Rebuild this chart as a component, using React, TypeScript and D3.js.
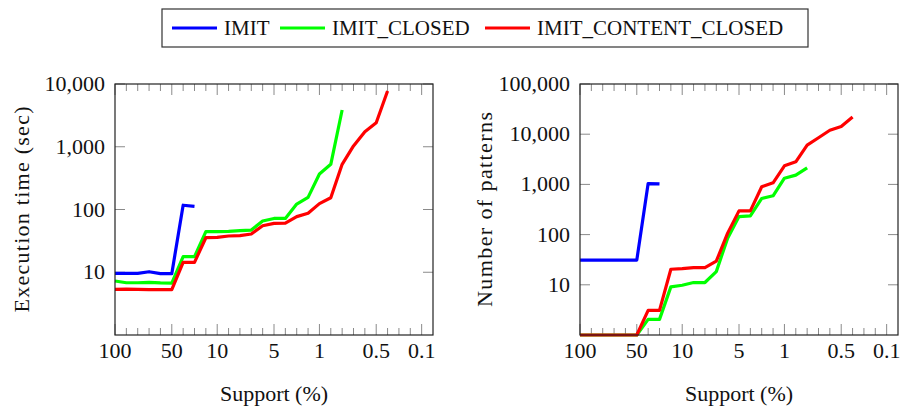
import React, { useRef, useEffect } from 'react'
import * as d3 from 'd3'

// support thresholds (%) - one per x position, evenly spaced
const supports = ['100', '90', '80', '70', '60', '50', '40', '30', '20', '10', '9', '8', '7', '6', '5', '4', '3', '2', '1', '0.9', '0.8', '0.7', '0.6', '0.5', '0.4', '0.3', '0.2', '0.1']
const supportTicks = ['100', '50', '10', '5', '1', '0.5', '0.1']

const seriesNames = ['IMIT', 'IMIT_CLOSED', 'IMIT_CONTENT_CLOSED']
const seriesColors = ['#0000ff', '#00ff00', '#ff0000']

// execution time (sec)
const timeImit = [9.6, 9.6, 9.6, 10.2, 9.5, 9.5, 117, 112]
const timeImitClosed = [7.25, 6.8, 6.8, 6.9, 6.75, 6.7, 17.7, 17.7, 44.3, 44.3, 44.8, 45.9, 47, 65.6, 72, 72, 122, 156, 368, 525, 3850]
const timeContentClosed = [5.35, 5.4, 5.35, 5.3, 5.3, 5.3, 14.4, 14.4, 35.5, 36, 37.8, 38.3, 40.7, 55, 60, 60.5, 77, 87, 124, 154, 525, 1030, 1740, 2420, 7730]

// number of patterns
const patImit = [31, 31, 31, 31, 31, 31, 1040, 1020]
const patImitClosed = [1, 1, 1, 1, 1, 1, 2.05, 2.05, 9.1, 9.8, 11.1, 11.1, 18.3, 85, 229, 237, 525, 593, 1330, 1530, 2140]
const patContentClosed = [1, 1, 1, 1, 1, 1, 3.1, 3.1, 20.4, 21, 22, 22, 29.5, 107, 297, 297, 896, 1077, 2350, 2820, 6070, 8500, 12000, 14300, 22000]

const timeTicks = [10, 100, 1000, 10000]
const patTicks = [10, 100, 1000, 10000, 100000]

const SERIF = "'Liberation Serif'"

interface PanelSpec {
  left: number
  right: number
  yMax: number
  yTicks: number[]
  yTitle: string
  titleX: number
  titleLen: number
  series: number[][]
}

const panels: PanelSpec[] = [
  { left: 115, right: 433, yMax: 1e4, yTicks: timeTicks, yTitle: 'Execution time (sec)', titleX: 29, titleLen: 206,
    series: [timeImit, timeImitClosed, timeContentClosed] },
  { left: 580, right: 898, yMax: 1e5, yTicks: patTicks, yTitle: 'Number of patterns', titleX: 492, titleLen: 195,
    series: [patImit, patImitClosed, patContentClosed] }
]

const TOP = 84
const BOTTOM = 335
const legendX = [172, 280, 485]

export default function App() {
  const svgRef = useRef<SVGSVGElement>(null)

  useEffect(() => {
    if (!svgRef.current) return
    const svg = d3.select(svgRef.current)
    svg.selectAll('*').remove()
    const fmt = d3.format(',')

    const label = (sel: d3.Selection<SVGTextElement, unknown, null, undefined>, size: number) =>
      sel.style('font-family', SERIF).style('font-size', `${size}px`).attr('fill', '#111')

    panels.forEach(p => {
      const g = svg.append('g')
      const x = d3.scaleLinear().domain([0, supports.length]).range([p.left, p.right])
      const y = d3.scaleLog().domain([1, p.yMax]).range([BOTTOM, TOP])

      // x ticks: minor at every support value, longer at labelled ones
      supports.forEach((s, i) => {
        const len = supportTicks.includes(s) ? 11 : 7
        g.append('line').attr('x1', x(i)).attr('x2', x(i)).attr('y1', BOTTOM).attr('y2', BOTTOM - len)
          .attr('stroke', '#8a8a8a')
        g.append('line').attr('x1', x(i)).attr('x2', x(i)).attr('y1', TOP).attr('y2', TOP + len)
          .attr('stroke', '#8a8a8a')
      })
      p.yTicks.forEach(t => {
        g.append('line').attr('x1', p.left).attr('x2', p.left + 10).attr('y1', y(t)).attr('y2', y(t))
          .attr('stroke', '#8a8a8a')
        g.append('line').attr('x1', p.right).attr('x2', p.right - 10).attr('y1', y(t)).attr('y2', y(t))
          .attr('stroke', '#8a8a8a')
      })

      const line = d3.line<number>().x((_, i) => x(i)).y(d => y(d))
      p.series.forEach((vals, k) => {
        g.append('path').attr('d', line(vals) || '').attr('fill', 'none')
          .attr('stroke', seriesColors[k]).attr('stroke-width', 3.2).attr('stroke-linejoin', 'round')
      })

      g.append('rect').attr('x', p.left).attr('y', TOP).attr('width', p.right - p.left).attr('height', BOTTOM - TOP)
        .attr('fill', 'none').attr('stroke', '#222').attr('stroke-width', 1.2)

      supports.forEach((s, i) => {
        if (!supportTicks.includes(s)) return
        label(g.append('text').attr('x', x(i)).attr('y', BOTTOM + 23).attr('text-anchor', 'middle').text(s), 22)
      })
      p.yTicks.forEach(t => {
        label(g.append('text').attr('x', p.left - 10).attr('y', y(t) + 7).attr('text-anchor', 'end').text(fmt(t)), 22)
      })

      label(g.append('text').attr('x', (p.left + p.right) / 2).attr('y', 401).attr('text-anchor', 'middle')
        .text('Support (%)'), 22)
      label(g.append('text')
        .attr('transform', `translate(${p.titleX},${(TOP + BOTTOM) / 2}) rotate(-90)`)
        .attr('text-anchor', 'middle')
        .attr('textLength', p.titleLen).attr('lengthAdjust', 'spacing')
        .text(p.yTitle), 22)
    })

    // legend
    svg.append('rect').attr('x', 162).attr('y', 9).attr('width', 646).attr('height', 38)
      .attr('fill', '#fff').attr('stroke', '#333').attr('stroke-width', 1.2)
    seriesNames.forEach((name, k) => {
      svg.append('line').attr('x1', legendX[k]).attr('x2', legendX[k] + 45).attr('y1', 28).attr('y2', 28)
        .attr('stroke', seriesColors[k]).attr('stroke-width', 3.2)
      label(svg.append('text').attr('x', legendX[k] + 52).attr('y', 35).text(name), 21)
    })
  }, [])

  return (
    <svg ref={svgRef} width={901} height={408}
      style={{ position: 'absolute', left: 0, top: 0, background: '#fff' }} />
  )
}
